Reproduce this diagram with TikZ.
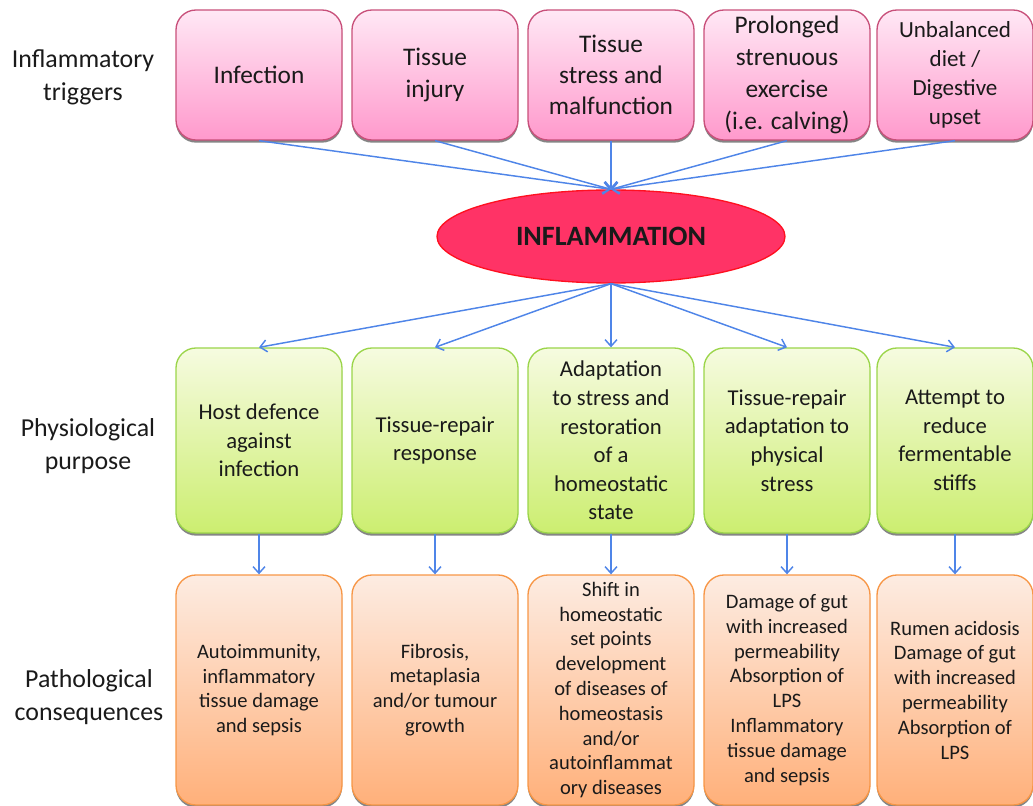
\documentclass[tikz,border=0pt]{standalone}
\usepackage{fontspec}
\setmainfont{Carlito}
\usetikzlibrary{arrows.meta,shadows,shapes.geometric}
\definecolor{pinkT}{HTML}{FFE8F5}
\definecolor{pinkB}{HTML}{FF99CC}
\definecolor{pinkD}{HTML}{C8507A}
\definecolor{grnT}{HTML}{F6FBE0}
\definecolor{grnB}{HTML}{CCEE70}
\definecolor{grnD}{HTML}{9BD54A}
\definecolor{orT}{HTML}{FDECE2}
\definecolor{orB}{HTML}{FFB07A}
\definecolor{orD}{HTML}{F79646}
\definecolor{ellF}{HTML}{FF3366}
\definecolor{ellD}{HTML}{FF1020}
\definecolor{arr}{HTML}{4F85E8}
\definecolor{txt}{HTML}{1A1A1A}
\begin{document}
\begin{tikzpicture}[x=0.75pt,y=-0.75pt,
  box/.style={rounded corners=15pt, align=center, inner sep=2pt, line width=1pt, text=txt,
    drop shadow={shadow xshift=0pt, shadow yshift=-2pt, opacity=0.6, fill=black!80}},
  trig/.style={box, draw=pinkD, top color=pinkT, bottom color=pinkB,
    minimum width=124.5pt, minimum height=97.5pt, font=\fontsize{19}{23.5}\selectfont},
  purp/.style={box, draw=grnD, top color=grnT, bottom color=grnB,
    minimum width=124.5pt, minimum height=138.75pt, font=\fontsize{17}{21.4}\selectfont},
  cons/.style={box, draw=orD, top color=orT, bottom color=orB,
    minimum width=124.5pt, minimum height=172.5pt, font=\fontsize{15.4}{18.6}\selectfont},
  lab/.style={align=center, text=txt, font=\fontsize{19.4}{24.75}\selectfont},
  conn/.style={draw=arr, line width=1.1pt, -{Straight Barb[length=5pt,width=9pt]}}
]
\useasboundingbox (0,0) rectangle (1033,806);

% row labels
\node[lab] (l1) at (83,77) {Inflammatory\\triggers};
\node[lab] (l2) at (88,446) {Physiological\\purpose};
\node[lab] (l3) at (89,697) {Pathological\\consequences};

% triggers
\node[trig] (t1) at (259,75) {Infection};
\node[trig] (t2) at (435,75) {Tissue\\injury};
\node[trig] (t3) at (611,75) {Tissue\\stress and\\malfunction};
\node[trig, font=\fontsize{19}{24}\selectfont] (t4) at (787,75) {Prolonged\\strenuous\\exercise\\(i.e. calving)};
\node[trig, minimum width=117pt, font=\fontsize{17.3}{21.75}\selectfont] (t5) at (955,75) {Unbalanced\\diet /\\Digestive\\upset};

% central ellipse
\node[ellipse, draw=ellD, fill=ellF, line width=1pt, minimum width=261pt, minimum height=69.75pt,
  text=txt, font=\bfseries\fontsize{21}{25}\selectfont] (inf) at (611,236.5) {INFLAMMATION};

% purposes
\node[purp] (g1) at (259,440.5) {Host defence\\against\\infection};
\node[purp] (g2) at (435,440.5) {Tissue-repair\\response};
\node[purp] (g3) at (611,440.5) {Adaptation\\to stress and\\restoration\\of a\\homeostatic\\state};
\node[purp] (g4) at (787,440.5) {Tissue-repair\\adaptation to\\physical\\stress};
\node[purp, minimum width=117pt] (g5) at (955,440.5) {Attempt to\\reduce\\fermentable\\stiffs};

% consequences
\node[cons] (o1) at (259,690) {Autoimmunity,\\inflammatory\\tissue damage\\and sepsis};
\node[cons] (o2) at (435,690) {Fibrosis,\\metaplasia\\and/or tumour\\growth};
\node[cons] (o3) at (611,690) {Shift in\\homeostatic\\set points\\development\\of diseases of\\homeostasis\\and/or\\autoinflammat\\ory diseases};
\node[cons] (o4) at (787,690) {Damage of gut\\with increased\\permeability\\Absorption of\\LPS\\Inflammatory\\tissue damage\\and sepsis};
\node[cons, minimum width=117pt] (o5) at (955,690) {Rumen acidosis\\Damage of gut\\with increased\\permeability\\Absorption of\\LPS};

% connectors
\foreach \i in {1,...,5}{
  \draw[conn] (t\i.south) -- (inf.north);
  \draw[conn] (inf.south) -- (g\i.north);
  \draw[conn] (g\i.south) -- (o\i.north);
}
\end{tikzpicture}
\end{document}
